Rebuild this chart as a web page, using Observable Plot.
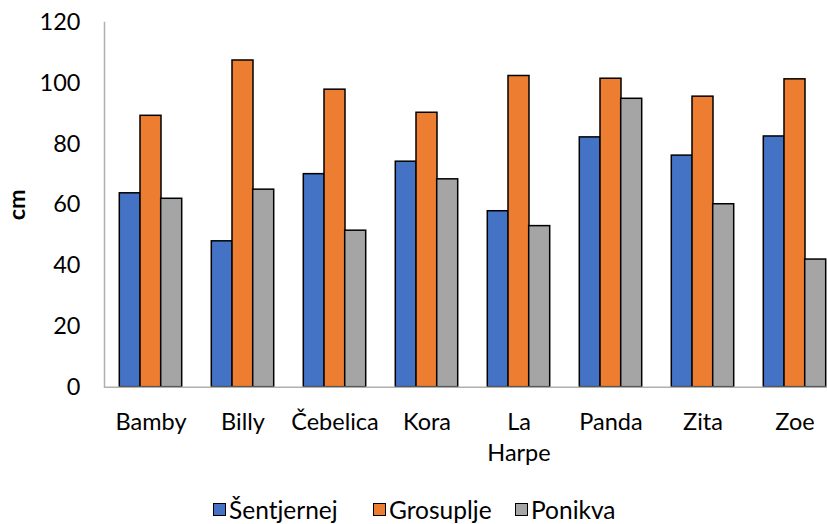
<!DOCTYPE html>
<html><head><meta charset="utf-8">
<script src="https://cdn.jsdelivr.net/npm/d3@7"></script>
<script src="https://cdn.jsdelivr.net/npm/@observablehq/plot@0.6"></script>
<style>
body{margin:0;background:#fff;font-family:Lato, sans-serif;}
#wrap{width:827px;height:524px;overflow:hidden;position:relative;}
#chart svg{overflow:hidden;max-width:none !important;width:840px !important;height:470px !important;}
#chart [aria-label="y-axis label"] text, #chart [aria-label="y-axis label"]{font-weight:bold;}
.legend{position:absolute;top:495px;left:0;width:827px;height:28px;font-size:24.5px;color:#000;white-space:nowrap;}
.legend .item{position:absolute;top:0;display:flex;align-items:center;}
.legend .sw{display:inline-block;width:11px;height:11px;border:1.5px solid #000;margin-right:3px;}
</style>
</head><body>
<div id="wrap"><div id="chart"></div><div class="legend" id="legend"></div></div>
<script>
const categories = ["Bamby","Billy","Čebelica","Kora","La Harpe","Panda","Zita","Zoe"];
const seriesNames = ["Šentjernej","Grosuplje","Ponikva"];
const sentjernej = [63.8, 48.0, 70.1, 74.2, 57.9, 82.2, 76.2, 82.5];
const grosuplje  = [89.3, 107.5, 97.9, 90.3, 102.4, 101.5, 95.6, 101.3];
const ponikva    = [62.0, 65.0, 51.5, 68.4, 53.0, 94.9, 60.2, 42.0];
const yTicks = [0, 20, 40, 60, 80, 100, 120];
const colors = ["#4472C4", "#ED7D31", "#A5A5A5"];
const legendLeft = [213, 373, 515];

const seriesValues = [sentjernej, grosuplje, ponikva];
const tables = seriesValues.map((vals, s) => categories.map((c, i) => ({category: c, series: seriesNames[s], value: vals[i]})));

const barW = 92 * (1 - 0.775);
const chart = Plot.plot({
  width: 840,
  height: 470,
  marginLeft: 104,
  marginRight: 0,
  marginTop: 22,
  marginBottom: 83.3,
  style: {fontFamily: "Lato, sans-serif", color: "#000", background: "#fff"},
  x: {domain: categories, paddingInner: 0.775, paddingOuter: 0.3875},
  y: {domain: [0, 120]},
  marks: [
    ...tables.map((t, s) => Plot.barY(t, {x: "category", y: "value", fill: colors[s], stroke: "#000", strokeWidth: 1.5, dx: (s - 1) * barW})),
    Plot.ruleY([0], {stroke: "#b0b0b0", strokeWidth: 1.5}),
    Plot.frame({anchor: "left", stroke: "#b0b0b0", strokeWidth: 1.5}),
    Plot.axisY({ticks: yTicks, tickSize: 0, tickPadding: 24, fontSize: 23.5, label: "cm", labelArrow: false, labelAnchor: "center", labelOffset: 96}),
    Plot.axisX({tickSize: 0, tickPadding: 21, fontSize: 23.5, lineHeight: 1.32, tickFormat: d => d.replace(" ", "\n"), label: null})
  ]
});
document.getElementById("chart").appendChild(chart);

const legend = document.getElementById("legend");
seriesNames.forEach((n, i) => {
  const it = document.createElement("div");
  it.className = "item";
  it.style.left = legendLeft[i] + "px";
  const sw = document.createElement("span");
  sw.className = "sw";
  sw.style.background = colors[i];
  it.appendChild(sw);
  it.appendChild(document.createTextNode(n));
  legend.appendChild(it);
});
</script>
</body></html>
